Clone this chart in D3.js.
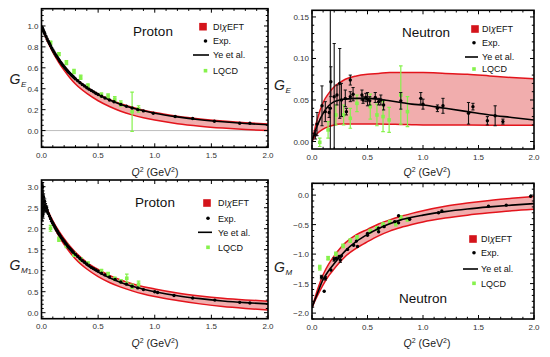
<!DOCTYPE html>
<html><head><meta charset="utf-8">
<script src="https://cdn.jsdelivr.net/npm/d3@7"></script>
<style>body{margin:0;background:#fff}svg{display:block;font-family:"Liberation Sans",Arial,sans-serif}</style>
</head><body><svg id="c" width="550" height="357"></svg>
<script>
// ---------- shared Q^2 grid for curves ----------
const gridQ2 = [0, 0.025, 0.05, 0.1, 0.15, 0.2, 0.25, 0.3, 0.4, 0.5, 0.6, 0.7, 0.8, 0.9, 1.0, 1.2, 1.4, 1.6, 1.8, 2.0];

// ---------- Panel 1: proton G_E ----------
const pGE_ye    = [1.0, 0.934, 0.874, 0.77, 0.683, 0.61, 0.548, 0.495, 0.41, 0.344, 0.292, 0.25, 0.216, 0.189, 0.166, 0.131, 0.104, 0.084, 0.068, 0.055];
const pGE_upper = [1.0, 0.936, 0.877, 0.773, 0.687, 0.614, 0.552, 0.5, 0.415, 0.35, 0.298, 0.256, 0.222, 0.195, 0.172, 0.137, 0.111, 0.091, 0.075, 0.062];
const pGE_lower = [1.0, 0.925, 0.86, 0.75, 0.655, 0.575, 0.505, 0.445, 0.355, 0.285, 0.23, 0.185, 0.15, 0.122, 0.1, 0.066, 0.042, 0.024, 0.01, 0.0];
const pGE_expQ2 = [0.005,0.01,0.015,0.02,0.025,0.03,0.04,0.05,0.06,0.07,0.08,0.09,0.1,0.11,0.12,0.13,0.14,0.15,0.16,0.17,0.18,0.19,0.2,0.21,0.22,0.23,0.24,0.25,0.26,0.27,0.28,0.29,0.3,0.32,0.34,0.36,0.38,0.4,0.42,0.44,0.46,0.48,0.5,0.53,0.56,0.6,0.64,0.7,0.75,0.8,0.85,0.9,0.987,1.18,1.335,1.527,1.75,1.84];
const pGE_expVal = [0.987,0.974,0.962,0.948,0.936,0.923,0.9,0.876,0.855,0.833,0.812,0.79,0.77,0.752,0.733,0.716,0.7,0.683,0.667,0.652,0.637,0.622,0.609,0.596,0.583,0.57,0.558,0.547,0.535,0.525,0.514,0.504,0.494,0.476,0.458,0.441,0.426,0.41,0.396,0.383,0.37,0.357,0.345,0.328,0.312,0.292,0.275,0.25,0.232,0.215,0.2,0.188,0.166,0.134,0.115,0.089,0.07,0.07];
const pGE_expErr = [0.01,0.01,0.01,0.01,0.01,0.01,0.01,0.01,0.01,0.01,0.01,0.01,0.01,0.01,0.01,0.01,0.01,0.01,0.01,0.01,0.01,0.01,0.01,0.01,0.01,0.01,0.01,0.01,0.01,0.01,0.01,0.01,0.01,0.01,0.01,0.01,0.01,0.01,0.01,0.01,0.01,0.01,0.01,0.008,0.008,0.008,0.008,0.008,0.008,0.008,0.008,0.008,0.006,0.006,0.006,0.006,0.006,0.006];
const pGE_lqQ2  = [0.08, 0.154, 0.22, 0.287, 0.346, 0.41, 0.529, 0.588, 0.647, 0.70, 0.80, 0.857];
const pGE_lqVal = [0.84, 0.73, 0.65, 0.564, 0.51, 0.427, 0.34, 0.33, 0.30, 0.258, 0.18, 0.207];
const pGE_lqErr = [0.015, 0.015, 0.02, 0.02, 0.02, 0.02, 0.02, 0.02, 0.025, 0.025, 0.188, 0.03];

// ---------- Panel 2: neutron G_E ----------
const nGE_ye    = [0, 0.011, 0.02, 0.034, 0.043, 0.048, 0.05, 0.051, 0.052, 0.052, 0.051, 0.049, 0.047, 0.045, 0.044, 0.04, 0.036, 0.032, 0.029, 0.026];
const nGE_upper = [0, 0.015, 0.028, 0.047, 0.058, 0.066, 0.071, 0.075, 0.079, 0.081, 0.082, 0.083, 0.083, 0.083, 0.083, 0.082, 0.081, 0.079, 0.077, 0.0755];
const nGE_lower = [0, 0.006, 0.01, 0.015, 0.018, 0.02, 0.021, 0.021, 0.021, 0.021, 0.021, 0.0208, 0.0205, 0.0203, 0.02, 0.02, 0.0198, 0.0197, 0.0197, 0.0197];
const nGE_expQ2  = [0.03, 0.045, 0.09, 0.12, 0.155, 0.165, 0.17, 0.2, 0.225, 0.25, 0.265, 0.3, 0.31, 0.345, 0.345, 0.37, 0.45, 0.46, 0.485, 0.5, 0.52, 0.57, 0.6, 0.62, 0.645, 0.8, 0.98, 1.0, 1.13, 1.18, 1.41, 1.45, 1.58, 1.65, 1.72];
const nGE_expVal = [0.008, 0.021, 0.043, 0.036, 0.035, 0.04, 0.072, 0.054, 0.056, 0.07, 0.05, 0.052, 0.036, 0.074, 0.054, 0.057, 0.056, 0.05, 0.053, 0.051, 0.049, 0.053, 0.048, 0.05, 0.044, 0.049, 0.052, 0.045, 0.04, 0.043, 0.034, 0.042, 0.025, 0.031, 0.024];
const nGE_expErr = [0.005, 0.014, 0.024, 0.012, 0.006, 0.2, 0.018, 0.064, 0.012, 0.042, 0.02, 0.01, 0.004, 0.006, 0.006, 0.008, 0.006, 0.004, 0.005, 0.008, 0.005, 0.006, 0.004, 0.006, 0.006, 0.01, 0.007, 0.006, 0.004, 0.009, 0.013, 0.004, 0.005, 0.012, 0.003];
const nGE_lqQ2  = [0.07, 0.145, 0.215, 0.285, 0.345, 0.405, 0.525, 0.585, 0.64, 0.695, 0.8, 0.86];
const nGE_lqVal = [-0.001, 0.014, 0.032, 0.032, 0.028, 0.046, 0.042, 0.032, 0.03, 0.026, 0.056, 0.036];
const nGE_lqErr = [0.005, 0.01, 0.012, 0.012, 0.012, 0.01, 0.015, 0.013, 0.018, 0.015, 0.035, 0.018];

// ---------- Panel 3: proton G_M ----------
const pGM_ye    = [2.79, 2.62, 2.45, 2.15, 1.91, 1.70, 1.53, 1.38, 1.14, 0.965, 0.83, 0.72, 0.63, 0.56, 0.50, 0.405, 0.335, 0.28, 0.24, 0.21];
const pGM_upper = [2.79, 2.63, 2.47, 2.19, 1.96, 1.76, 1.59, 1.44, 1.2, 1.03, 0.89, 0.78, 0.69, 0.62, 0.565, 0.47, 0.4, 0.345, 0.305, 0.275];
const pGM_lower = [2.79, 2.6, 2.42, 2.1, 1.84, 1.62, 1.44, 1.28, 1.04, 0.86, 0.72, 0.61, 0.52, 0.445, 0.385, 0.29, 0.21, 0.145, 0.1, 0.065];
const pGM_expQ2 = [0.001,0.002,0.003,0.004,0.005,0.006,0.007,0.008,0.009,0.01,0.011,0.012,0.013,0.014,0.015,0.016,0.018,0.02,0.022,0.025,0.028,0.03,0.035,0.04,0.045,0.05,0.06,0.07,0.08,0.09,0.1,0.11,0.12,0.13,0.14,0.15,0.16,0.17,0.18,0.19,0.2,0.21,0.22,0.23,0.24,0.25,0.26,0.27,0.28,0.3,0.32,0.34,0.36,0.38,0.4,0.42,0.44,0.46,0.48,0.5,0.53,0.56,0.6,0.65,0.7,0.75,0.8,0.85,0.9,1.0,1.025,1.17,1.335,1.53,1.75,1.84];
const pGM_expVal = [2.9,3.05,2.6,2.95,2.45,2.85,2.3,2.75,2.55,3.0,2.4,2.8,2.65,2.35,2.7,2.5,2.75,2.6,2.45,2.55,2.65,2.5,2.55,2.45,2.5,2.42,2.36,2.3,2.24,2.18,2.13,2.08,2.03,1.98,1.94,1.89,1.85,1.81,1.77,1.73,1.7,1.66,1.63,1.59,1.56,1.53,1.5,1.47,1.44,1.39,1.34,1.29,1.24,1.2,1.16,1.12,1.08,1.05,1.02,0.99,0.94,0.9,0.85,0.79,0.73,0.68,0.63,0.59,0.55,0.5,0.48,0.41,0.35,0.30,0.246,0.23];
const pGM_expErr = [0.12,0.12,0.12,0.12,0.12,0.12,0.12,0.12,0.1,0.1,0.1,0.1,0.1,0.1,0.08,0.08,0.08,0.08,0.06,0.06,0.06,0.05,0.05,0.04,0.04,0.04,0.03,0.03,0.03,0.03,0.03,0.03,0.03,0.03,0.03,0.03,0.03,0.03,0.03,0.03,0.03,0.03,0.03,0.03,0.03,0.03,0.03,0.03,0.03,0.03,0.03,0.03,0.03,0.03,0.02,0.02,0.02,0.02,0.02,0.02,0.02,0.02,0.02,0.02,0.02,0.02,0.02,0.02,0.02,0.02,0.02,0.02,0.02,0.02,0.02,0.02];
const pGM_lqQ2  = [0.08, 0.154, 0.22, 0.287, 0.346, 0.41, 0.529, 0.588, 0.647, 0.70, 0.753, 0.80, 0.857];
const pGM_lqVal = [2.01, 1.75, 1.6, 1.39, 1.27, 1.17, 0.99, 0.92, 0.81, 0.75, 0.82, 0.63, 0.68];
const pGM_lqErr = [0.07, 0.05, 0.05, 0.05, 0.04, 0.04, 0.04, 0.04, 0.04, 0.04, 0.1, 0.05, 0.07];

// ---------- Panel 4: neutron G_M ----------
const nGM_ye    = [-1.91, -1.78, -1.66, -1.43, -1.28, -1.16, -1.05, -0.945, -0.785, -0.665, -0.565, -0.485, -0.42, -0.375, -0.34, -0.28, -0.235, -0.2, -0.17, -0.145];
const nGM_upper = [-1.91, -1.75, -1.6, -1.35, -1.17, -1.03, -0.91, -0.81, -0.67, -0.58, -0.49, -0.42, -0.36, -0.31, -0.265, -0.19, -0.135, -0.09, -0.055, -0.025];
const nGM_lower = [-1.91, -1.8, -1.7, -1.52, -1.37, -1.25, -1.14, -1.04, -0.9, -0.79, -0.69, -0.61, -0.55, -0.5, -0.455, -0.39, -0.34, -0.3, -0.265, -0.24];
const nGM_expQ2  = [0.085, 0.11, 0.12, 0.17, 0.2, 0.22, 0.245, 0.255, 0.265, 0.32, 0.375, 0.4, 0.41, 0.5, 0.5, 0.6, 0.6, 0.65, 0.745, 0.78, 0.78, 0.88, 1.14, 1.17, 1.59, 1.75, 1.97];
const nGM_expVal = [-1.39, -1.63, -1.41, -1.27, -1.09, -1.07, -1.04, -1.1, -1.03, -0.92, -0.85, -0.78, -0.87, -0.68, -0.65, -0.62, -0.56, -0.535, -0.45, -0.47, -0.35, -0.41, -0.3, -0.27, -0.19, -0.17, -0.02];
const nGM_expErr = [0.03, 0.02, 0.03, 0.02, 0.03, 0.02, 0.02, 0.04, 0.02, 0.02, 0.02, 0.02, 0.02, 0.02, 0.02, 0.02, 0.02, 0.02, 0.02, 0.02, 0.02, 0.02, 0.015, 0.015, 0.015, 0.02, 0.02];
const nGM_lqQ2  = [0.07, 0.145, 0.215, 0.28, 0.345, 0.405, 0.525, 0.585, 0.64, 0.7, 0.755, 0.8, 0.86];
const nGM_lqVal = [-1.23, -1.07, -0.997, -0.86, -0.77, -0.715, -0.61, -0.565, -0.5, -0.46, -0.48, -0.38, -0.41];
const nGM_lqErr = [0.04, 0.03, 0.03, 0.03, 0.03, 0.03, 0.03, 0.03, 0.03, 0.03, 0.04, 0.03, 0.03];

const legendLabels = ["Exp.", "Ye et al.", "LQCD"];
const xTicks = [0, 0.5, 1.0, 1.5, 2.0];

const RED = "#e3141c", FILL = "#f1adad", GREEN = "#86f24c", SWATCH = "#d4141b";
const svg = d3.select("#c");

const panels = [
  {x0:41.5, x1:268, y0:8.7, y1:147.3, yd:[-0.16,1.165], yMajor:[0,0.2,0.4,0.6,0.8,1.0], yMinor:0.05, fmt:d3.format(".1f"),
   ye:pGE_ye, up:pGE_upper, lo:pGE_lower, eq:pGE_expQ2, ev:pGE_expVal, ee:pGE_expErr, lq:pGE_lqQ2, lv:pGE_lqVal, le:pGE_lqErr,
   sub:"E", ylab:[20.5,79], xlab:[155,172], title:"Proton", tpos:[153,31], leg:{sx:203, dx:205.5, lx0:193, lx1:209, tx:213, rows:[26.7,41,55,70.7]}, zero:true},
  {x0:312, x1:534, y0:10.3, y1:149, yd:[-0.009,0.158], yMajor:[0,0.05,0.10,0.15], yMinor:0.01, fmt:d3.format(".2f"),
   ye:nGE_ye, up:nGE_upper, lo:nGE_lower, eq:nGE_expQ2, ev:nGE_expVal, ee:nGE_expErr, lq:nGE_lqQ2, lv:nGE_lqVal, le:nGE_lqErr,
   sub:"E", ylab:[285,85], xlab:[427,172], title:"Neutron", tpos:[426,32], leg:{sx:475, dx:474, lx0:465, lx1:478, tx:482, rows:[29,42.7,57,69]}},
  {x0:41.5, x1:268, y0:180, y1:318.7, yd:[-0.143,3.16], yMajor:[0,0.5,1,1.5,2,2.5,3], yMinor:0.1, fmt:d3.format(".1f"),
   ye:pGM_ye, up:pGM_upper, lo:pGM_lower, eq:pGM_expQ2, ev:pGM_expVal, ee:pGM_expErr, lq:pGM_lqQ2, lv:pGM_lqVal, le:pGM_lqErr,
   sub:"M", ylab:[20.5,265], xlab:[155,343], title:"Proton", tpos:[155,202], leg:{sx:207, dx:208, lx0:198, lx1:212, tx:218, rows:[203,218.3,232.3,247.3]}},
  {x0:312, x1:534, y0:183.3, y1:319, yd:[-2.1,0.2], yMajor:[-2,-1.5,-1,-0.5,0], yMinor:0.1, fmt:d3.format(".1f"),
   ye:nGM_ye, up:nGM_upper, lo:nGM_lower, eq:nGM_expQ2, ev:nGM_expVal, ee:nGM_expErr, lq:nGM_lqQ2, lv:nGM_lqVal, le:nGM_lqErr,
   sub:"M", ylab:[285,267], xlab:[427,343], title:"Neutron", tpos:[423,298], leg:{sx:473, dx:474, lx0:463, lx1:478, tx:481, rows:[239,252.7,269,283.3]}}
];

panels.forEach((p, i) => {
  const x = d3.scaleLinear().domain([0, 2]).range([p.x0, p.x1]);
  const y = d3.scaleLinear().domain(p.yd).range([p.y1, p.y0]);
  const g = svg.append("g");
  const cid = "clip" + i;
  svg.append("clipPath").attr("id", cid).append("rect")
    .attr("x", p.x0).attr("y", p.y0).attr("width", p.x1 - p.x0).attr("height", p.y1 - p.y0);
  const plot = g.append("g").attr("clip-path", `url(#${cid})`);

  if (p.zero) plot.append("line").attr("x1", p.x0).attr("x2", p.x1).attr("y1", y(0)).attr("y2", y(0))
    .attr("stroke", "#bdbdbd").attr("stroke-width", 1);

  // band
  const idx = d3.range(gridQ2.length);
  plot.append("path").datum(idx)
    .attr("d", d3.area().x(k => x(gridQ2[k])).y0(k => y(p.lo[k])).y1(k => y(p.up[k])).curve(d3.curveMonotoneX))
    .attr("fill", FILL);
  [p.up, p.lo].forEach(arr => plot.append("path").datum(idx)
    .attr("d", d3.line().x(k => x(gridQ2[k])).y(k => y(arr[k])).curve(d3.curveMonotoneX))
    .attr("fill", "none").attr("stroke", RED).attr("stroke-width", 1.5));

  // LQCD
  const lqg = plot.append("g");
  p.lq.forEach((q, k) => {
    const cx = x(q), top = y(p.lv[k] + p.le[k]), bot = y(p.lv[k] - p.le[k]);
    lqg.append("line").attr("x1", cx).attr("x2", cx).attr("y1", top).attr("y2", bot).attr("stroke", GREEN).attr("stroke-width", 1.2);
    [top, bot].forEach(yy => lqg.append("line").attr("x1", cx - 1.8).attr("x2", cx + 1.8).attr("y1", yy).attr("y2", yy).attr("stroke", GREEN).attr("stroke-width", 1.2));
    lqg.append("rect").attr("x", cx - 1.8).attr("y", y(p.lv[k]) - 1.8).attr("width", 3.6).attr("height", 3.6).attr("fill", GREEN);
  });

  // Ye curve
  plot.append("path").datum(idx)
    .attr("d", d3.line().x(k => x(gridQ2[k])).y(k => y(p.ye[k])).curve(d3.curveMonotoneX))
    .attr("fill", "none").attr("stroke", "#000").attr("stroke-width", 1.6);

  // Exp
  const eg = plot.append("g");
  p.eq.forEach((q, k) => {
    const cx = x(q), top = y(p.ev[k] + p.ee[k]), bot = y(p.ev[k] - p.ee[k]);
    eg.append("line").attr("x1", cx).attr("x2", cx).attr("y1", top).attr("y2", bot).attr("stroke", "#111").attr("stroke-width", 1.1);
    if (bot - top > 3) [top, bot].forEach(yy => eg.append("line").attr("x1", cx - 1.6).attr("x2", cx + 1.6).attr("y1", yy).attr("y2", yy).attr("stroke", "#111").attr("stroke-width", 1));
    eg.append("circle").attr("cx", cx).attr("cy", y(p.ev[k])).attr("r", 1.7).attr("fill", "#000");
  });

  // frame + ticks
  const fr = g.append("g").attr("stroke", "#000");
  const xMinor = d3.range(0, 2.0001, 0.1);
  xMinor.forEach(v => {
    const major = xTicks.some(t => Math.abs(t - v) < 1e-6);
    const L = major ? 4 : 2.2;
    fr.append("line").attr("x1", x(v)).attr("x2", x(v)).attr("y1", p.y1).attr("y2", p.y1 - L).attr("stroke-width", 1);
    fr.append("line").attr("x1", x(v)).attr("x2", x(v)).attr("y1", p.y0).attr("y2", p.y0 + L).attr("stroke-width", 1);
  });
  const yStart = Math.ceil(p.yd[0] / p.yMinor - 1e-6), yEnd = Math.floor(p.yd[1] / p.yMinor + 1e-6);
  d3.range(yStart, yEnd + 1).forEach(n => {
    const v = n * p.yMinor;
    const major = p.yMajor.some(t => Math.abs(t - v) < 1e-6);
    const L = major ? 4 : 2.2;
    fr.append("line").attr("x1", p.x0).attr("x2", p.x0 + L).attr("y1", y(v)).attr("y2", y(v)).attr("stroke-width", 1);
    fr.append("line").attr("x1", p.x1).attr("x2", p.x1 - L).attr("y1", y(v)).attr("y2", y(v)).attr("stroke-width", 1);
  });
  g.append("rect").attr("x", p.x0).attr("y", p.y0).attr("width", p.x1 - p.x0).attr("height", p.y1 - p.y0)
    .attr("fill", "none").attr("stroke", "#000").attr("stroke-width", 1.6);

  // tick labels
  xTicks.forEach(t => g.append("text").attr("x", x(t)).attr("y", p.y1 + 10.5).attr("text-anchor", "middle")
    .attr("font-size", 8).attr("fill", "#333").text(d3.format(".1f")(t)));
  p.yMajor.forEach(t => g.append("text").attr("x", p.x0 - 3).attr("y", y(t) + 3).attr("text-anchor", "end")
    .attr("font-size", 8).attr("fill", "#333").text(p.fmt(t)));

  // axis titles
  const xt = g.append("text").attr("x", p.xlab[0]).attr("y", p.xlab[1] + 4).attr("text-anchor", "middle").attr("font-size", 10.5).attr("fill", "#222");
  xt.append("tspan").attr("font-style", "italic").text("Q");
  xt.append("tspan").attr("font-size", 7).attr("dy", -4).text("2");
  xt.append("tspan").attr("dy", 4).text(" (GeV");
  xt.append("tspan").attr("font-size", 7).attr("dy", -4).text("2");
  xt.append("tspan").attr("dy", 4).text(")");
  g.append("text").attr("x", p.ylab[0]).attr("y", p.ylab[1] + 5).attr("text-anchor", "end")
    .attr("font-size", 14).attr("font-style", "italic").attr("fill", "#222").text("G");
  g.append("text").attr("x", p.ylab[0] + 0.5).attr("y", p.ylab[1] + 8).attr("text-anchor", "start")
    .attr("font-size", 8).attr("font-style", "italic").attr("fill", "#222").text(p.sub);

  // title
  g.append("text").attr("x", p.tpos[0]).attr("y", p.tpos[1] + 5).attr("text-anchor", "middle").attr("font-size", 13.5).attr("fill", "#111").text(p.title);

  // legend
  const L = p.leg;
  g.append("rect").attr("x", L.sx - 3.8).attr("y", L.rows[0] - 3.8).attr("width", 7.6).attr("height", 7.6).attr("fill", SWATCH);
  const t0 = g.append("text").attr("x", L.tx).attr("y", L.rows[0] + 3.2).attr("font-size", 9).attr("fill", "#111");
  t0.append("tspan").text("DI");
  t0.append("tspan").attr("font-style", "italic").text("χ");
  t0.append("tspan").text("EFT");
  g.append("circle").attr("cx", L.dx).attr("cy", L.rows[1]).attr("r", 1.8).attr("fill", "#000");
  g.append("line").attr("x1", L.lx0).attr("x2", L.lx1).attr("y1", L.rows[2]).attr("y2", L.rows[2]).attr("stroke", "#000").attr("stroke-width", 1.6);
  g.append("rect").attr("x", L.dx - 1.8).attr("y", L.rows[3] - 1.8).attr("width", 3.6).attr("height", 3.6).attr("fill", GREEN);
  legendLabels.forEach((s, k) => g.append("text").attr("x", L.tx).attr("y", L.rows[k + 1] + 3.2).attr("font-size", 9).attr("fill", "#111").text(s));
});
</script></body></html>
